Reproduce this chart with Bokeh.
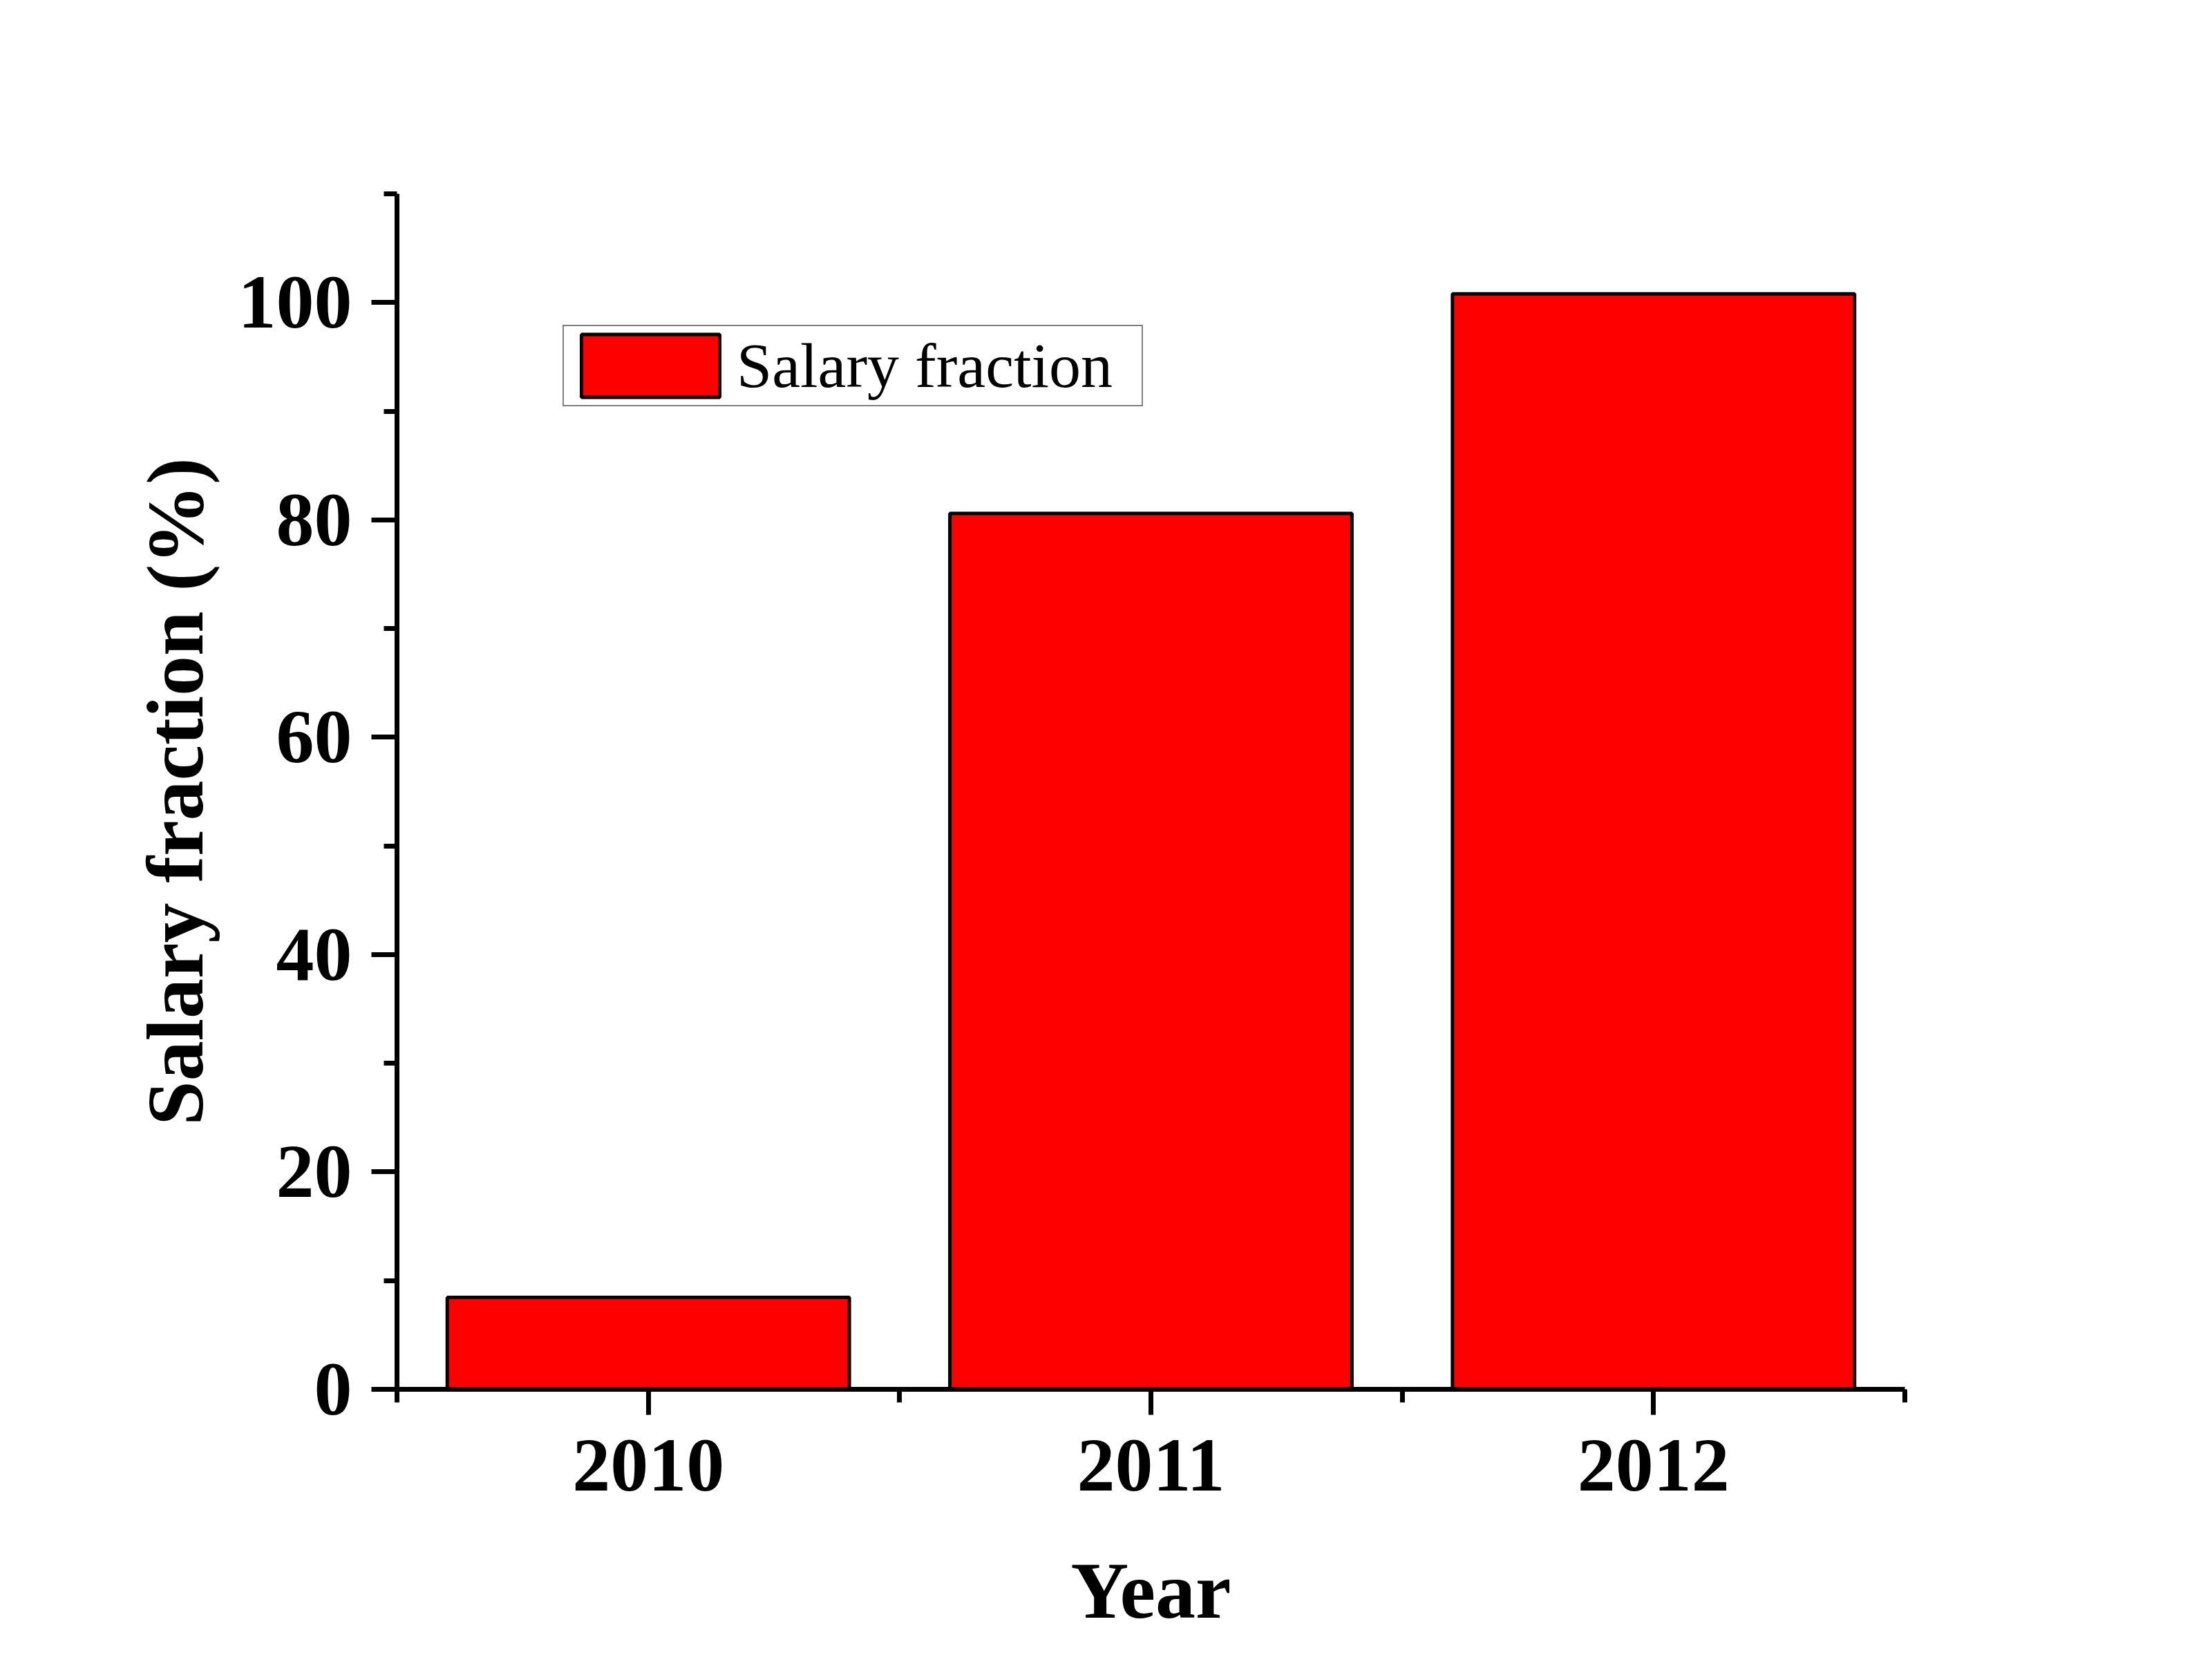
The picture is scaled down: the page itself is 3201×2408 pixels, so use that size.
from bokeh.plotting import figure
from bokeh.models import ColumnDataSource, FixedTicker, Legend, LegendItem
from bokeh.embed import file_html
from bokeh.resources import INLINE

# ---- data ----
years = [2010, 2011, 2012]
year_labels = ["2010", "2011", "2012"]
salary_fraction = [8.46, 80.6, 100.8]
y_ticks = [0, 20, 40, 60, 80, 100]
y_minor_ticks = [10, 30, 50, 70, 90, 110]
x_minor_ticks = [2009.5, 2010.5, 2011.5, 2012.5]
series_name = "Salary fraction"
x_title = "Year"
y_title = "Salary fraction (%)"

src = ColumnDataSource(dict(x=years, top=salary_fraction))

p = figure(width=3190, height=2400, x_range=(2009.5, 2012.5), y_range=(0, 110),
           output_backend="svg", toolbar_location=None,
           min_border_left=574, min_border_right=434,
           min_border_top=280, min_border_bottom=390)
p.outline_line_color = None
p.xgrid.visible = False
p.ygrid.visible = False
p.background_fill_color = "white"
p.border_fill_color = "white"

r = p.vbar(x="x", top="top", width=0.8, source=src, fill_color="#FF0000",
           line_color="black", line_width=5)

FONT = "Liberation Serif"

for ax in (p.xaxis[0], p.yaxis[0]):
    ax.axis_line_width = 7
    ax.axis_line_color = "black"
    ax.major_tick_line_width = 7
    ax.minor_tick_line_width = 7
    ax.major_tick_out = 37
    ax.major_tick_in = 0
    ax.minor_tick_out = 19
    ax.minor_tick_in = 0
    ax.major_label_text_font = FONT
    ax.major_label_text_font_style = "bold"
    ax.major_label_text_font_size = "110px"
    ax.major_label_text_color = "black"
    ax.axis_label_text_font = FONT
    ax.axis_label_text_font_style = "bold"
    ax.axis_label_text_font_size = "116px"
    ax.axis_label_text_color = "black"

p.xaxis.ticker = FixedTicker(ticks=years, minor_ticks=x_minor_ticks)
p.xaxis.major_label_overrides = {y: l for y, l in zip(years, year_labels)}
p.xaxis.major_label_standoff = 36
p.xaxis.axis_label = x_title
p.xaxis.axis_label_standoff = 78

p.yaxis.ticker = FixedTicker(ticks=y_ticks, minor_ticks=y_minor_ticks)
p.yaxis.major_label_standoff = 28
p.yaxis.axis_label = y_title
p.yaxis.axis_label_standoff = 24

legend = Legend(items=[LegendItem(label=series_name, renderers=[r])],
                location=(240, 1422))
legend.label_text_font = FONT
legend.label_text_font_size = "92px"
legend.label_text_color = "black"
legend.glyph_width = 250
legend.glyph_height = 114
legend.label_standoff = 0
legend.label_width = 586
legend.padding = 0
legend.spacing = 0
legend.margin = 0
legend.border_line_color = "black"
legend.border_line_width = 2
legend.background_fill_color = "white"
legend.background_fill_alpha = 1.0
p.add_layout(legend)

open("out.html", "w").write(file_html(p, INLINE))
